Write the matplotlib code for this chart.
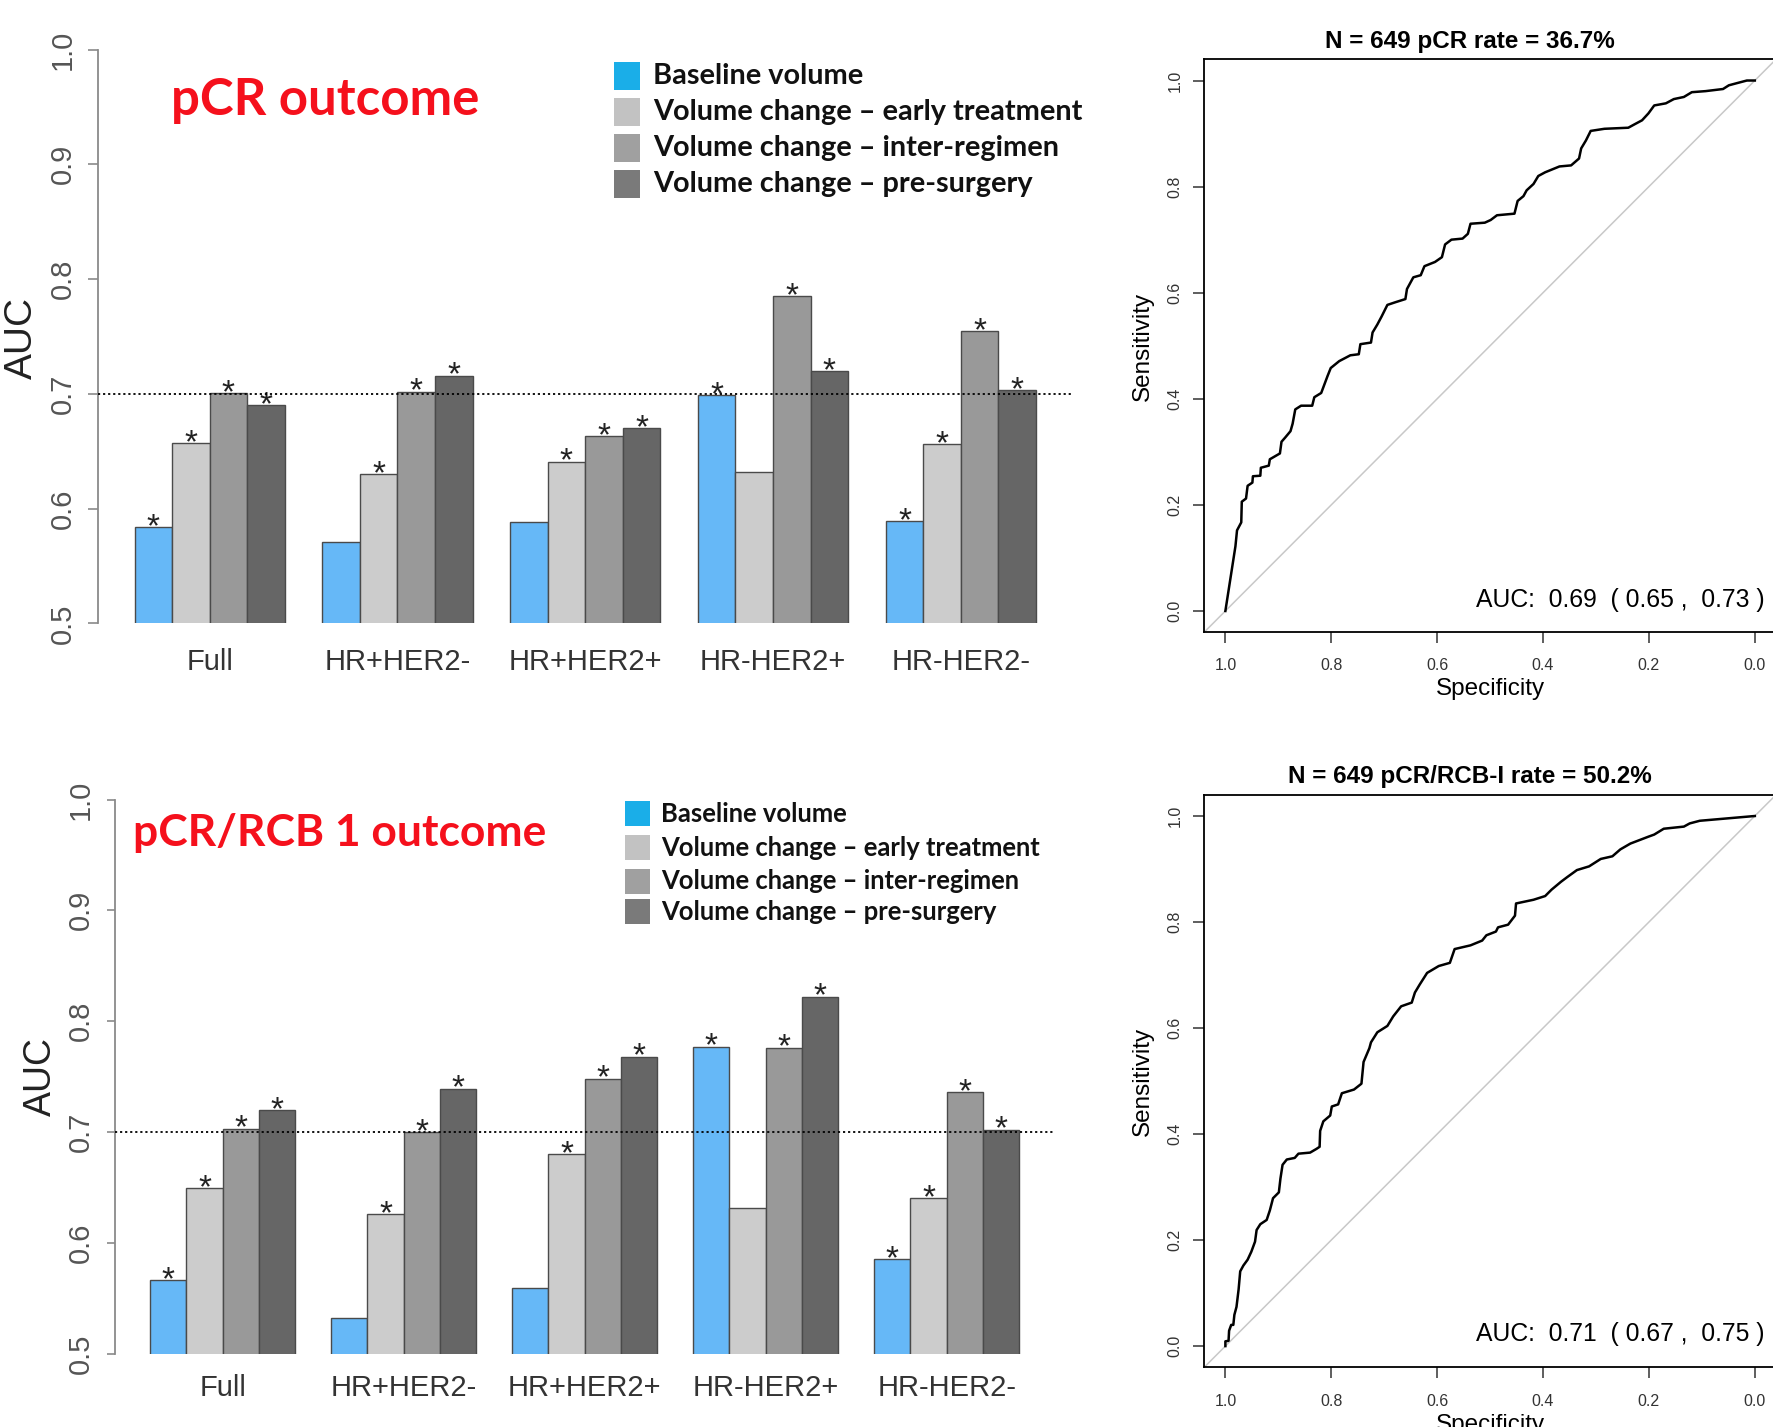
import numpy as np
import matplotlib
matplotlib.use("Agg")
import matplotlib.pyplot as plt
from matplotlib.patches import Rectangle

# ── data ──────────────────────────────────────────────────────────────────────
GROUPS = ["Full", "HR+HER2-", "HR+HER2+", "HR-HER2+", "HR-HER2-"]
SERIES = ["Baseline volume",
          "Volume change \u2013 early treatment",
          "Volume change \u2013 inter-regimen",
          "Volume change \u2013 pre-surgery"]

# pCR outcome, one list per series (values per subgroup)
PCR_BASELINE = [0.584, 0.571, 0.588, 0.699, 0.589]
PCR_EARLY    = [0.657, 0.630, 0.641, 0.632, 0.656]
PCR_INTER    = [0.701, 0.702, 0.663, 0.785, 0.755]
PCR_PRE      = [0.690, 0.716, 0.670, 0.720, 0.703]
# 1 = starred (significant), rows = subgroups, cols = series
PCR_SIG = [[1, 1, 1, 1], [0, 1, 1, 1], [0, 1, 1, 1], [1, 0, 1, 1], [1, 1, 1, 1]]

# pCR/RCB-I outcome
RCB_BASELINE = [0.566, 0.532, 0.559, 0.777, 0.585]
RCB_EARLY    = [0.649, 0.626, 0.680, 0.631, 0.640]
RCB_INTER    = [0.703, 0.700, 0.748, 0.776, 0.736]
RCB_PRE      = [0.720, 0.739, 0.768, 0.822, 0.702]
RCB_SIG = [[1, 1, 1, 1], [0, 1, 1, 1], [0, 1, 1, 1], [1, 0, 1, 1], [1, 1, 1, 1]]

# ROC curves (specificity, sensitivity)
ROC1_SPEC = [1.000, 0.981, 0.978, 0.970, 0.969, 0.961, 0.958, 0.949, 0.948, 0.934,
             0.933, 0.918, 0.916, 0.897, 0.894, 0.887, 0.877, 0.873, 0.868, 0.857,
             0.836, 0.832, 0.819, 0.813, 0.807, 0.801, 0.785, 0.764, 0.748, 0.745,
             0.725, 0.722, 0.713, 0.705, 0.694, 0.679, 0.660, 0.657, 0.645, 0.631,
             0.624, 0.604, 0.591, 0.585, 0.573, 0.552, 0.542, 0.537, 0.510, 0.499,
             0.487, 0.454, 0.448, 0.437, 0.431, 0.418, 0.409, 0.396, 0.369, 0.347,
             0.332, 0.328, 0.319, 0.310, 0.284, 0.239, 0.228, 0.213, 0.201, 0.190,
             0.168, 0.153, 0.134, 0.119, 0.093, 0.060, 0.049, 0.034, 0.015, 0.000]
ROC1_SENS = [0.000, 0.122, 0.152, 0.167, 0.206, 0.212, 0.236, 0.242, 0.254, 0.255,
             0.270, 0.274, 0.286, 0.297, 0.319, 0.327, 0.339, 0.353, 0.380, 0.387,
             0.387, 0.403, 0.411, 0.427, 0.443, 0.458, 0.471, 0.482, 0.484, 0.503,
             0.506, 0.525, 0.540, 0.555, 0.577, 0.582, 0.588, 0.607, 0.629, 0.633,
             0.650, 0.658, 0.667, 0.691, 0.700, 0.702, 0.711, 0.730, 0.732, 0.737,
             0.746, 0.749, 0.773, 0.782, 0.793, 0.805, 0.820, 0.827, 0.838, 0.840,
             0.853, 0.872, 0.887, 0.905, 0.909, 0.911, 0.917, 0.925, 0.938, 0.953,
             0.957, 0.965, 0.969, 0.978, 0.980, 0.984, 0.991, 0.995, 1.000, 1.000]

ROC2_SPEC = [1.000, 1.000, 0.994, 0.993, 0.989, 0.985, 0.983, 0.979, 0.975, 0.972,
             0.966, 0.958, 0.951, 0.944, 0.941, 0.934, 0.922, 0.916, 0.910, 0.899,
             0.896, 0.892, 0.884, 0.869, 0.862, 0.840, 0.828, 0.822, 0.821, 0.815,
             0.802, 0.799, 0.787, 0.780, 0.757, 0.743, 0.739, 0.728, 0.725, 0.713,
             0.694, 0.683, 0.668, 0.648, 0.642, 0.633, 0.619, 0.597, 0.576, 0.567,
             0.537, 0.515, 0.507, 0.489, 0.485, 0.466, 0.453, 0.451, 0.418, 0.396,
             0.384, 0.366, 0.354, 0.336, 0.313, 0.291, 0.269, 0.254, 0.235, 0.201,
             0.190, 0.172, 0.134, 0.123, 0.104, 0.000]
ROC2_SENS = [0.000, 0.009, 0.010, 0.029, 0.040, 0.040, 0.059, 0.074, 0.107, 0.141,
             0.152, 0.163, 0.178, 0.197, 0.219, 0.230, 0.238, 0.256, 0.279, 0.290,
             0.316, 0.342, 0.352, 0.355, 0.363, 0.365, 0.372, 0.376, 0.406, 0.424,
             0.435, 0.452, 0.456, 0.477, 0.484, 0.495, 0.536, 0.562, 0.573, 0.592,
             0.604, 0.622, 0.641, 0.648, 0.667, 0.682, 0.704, 0.717, 0.723, 0.749,
             0.756, 0.765, 0.775, 0.782, 0.790, 0.795, 0.812, 0.835, 0.842, 0.849,
             0.861, 0.876, 0.885, 0.898, 0.905, 0.919, 0.924, 0.937, 0.948, 0.961,
             0.965, 0.976, 0.980, 0.986, 0.991, 1.000]

ROC1_TITLE = "N = 649 pCR rate = 36.7%"
ROC2_TITLE = "N = 649 pCR/RCB-I rate = 50.2%"
ROC1_AUC = "AUC:  0.69  ( 0.65 ,  0.73 )"
ROC2_AUC = "AUC:  0.71  ( 0.67 ,  0.75 )"

BAR_COLORS = ["#66b8f7", "#cccccc", "#999999", "#666666"]
KEY_COLORS = ["#1aaee8", "#c2c2c2", "#a0a0a0", "#7a7a7a"]
RED = "#f5101c"

# ── layout helpers (pixel coordinates of the 1774x1427 canvas) ────────────────
W, H = 1774, 1427
plt.rcParams["font.family"] = ["Liberation Sans", "DejaVu Sans"]

fig = plt.figure(figsize=(W / 100, H / 100), dpi=100)


def rect(x0, y0, x1, y1):
    return [x0 / W, 1 - y1 / H, (x1 - x0) / W, (y1 - y0) / H]


def fxy(x, y):
    return x / W, 1 - y / H


def fit_width(txt, target):
    r = fig.canvas.get_renderer()
    w = txt.get_window_extent(r).width
    txt.set_fontsize(txt.get_fontsize() * target / w)
    return txt.get_fontsize()


def bar_panel(box, series_vals, sig, tick_len, tick_pad, cat_pad):
    ax = fig.add_axes(rect(*box))
    for j, vals in enumerate(series_vals):
        xs = [1.5 + 5 * g + j for g in range(len(GROUPS))]
        ax.bar(xs, vals, width=1.0, color=BAR_COLORS[j], edgecolor="#4a4a4a",
               linewidth=1.0, zorder=2)
        for g, (x, v) in enumerate(zip(xs, vals)):
            if sig[g][j]:
                ax.annotate("*", (x, v), xytext=(0, -6.5), textcoords="offset points",
                            ha="center", va="baseline", fontsize=24, color="#222222")
    ax.axhline(0.7, color="black", lw=1.3, ls=(0, (1.2, 1.6)), zorder=3)
    ax.set_xlim(0.04, 25.96)
    ax.set_ylim(0.5, 1.0)
    for s in ["top", "right", "bottom"]:
        ax.spines[s].set_visible(False)
    ax.spines["left"].set_color("#8a8a8a")
    ax.spines["left"].set_linewidth(1.3)
    ax.set_yticks([0.5, 0.6, 0.7, 0.8, 0.9, 1.0], ["0.5", "0.6", "0.7", "0.8", "0.9", "1.0"])
    ax.tick_params(axis="y", length=tick_len, width=1.2, color="#8a8a8a",
                   labelsize=21, labelcolor="#555555", pad=tick_pad)
    plt.setp(ax.get_yticklabels(), rotation=90, va="center")
    ax.set_xticks([3 + 5 * g for g in range(len(GROUPS))], GROUPS)
    ax.tick_params(axis="x", length=0, labelsize=21, labelcolor="#333333", pad=cat_pad)
    ax.patch.set_alpha(0)
    return ax


def key(x_sq, sq_w, sq_h, rows, x_txt, target_w):
    texts = []
    for label, color, yc in zip(SERIES, KEY_COLORS, rows):
        x0, y0 = fxy(x_sq, yc + sq_h / 2)
        fig.add_artist(Rectangle((x0, y0), sq_w / W, sq_h / H, transform=fig.transFigure,
                                 facecolor=color, edgecolor="none"))
        t = fig.text(*fxy(x_txt, yc), label, ha="left", va="center", fontsize=20,
                     family="Lato", fontweight="bold", color="#111111")
        texts.append(t)
    size = fit_width(texts[1], target_w)
    for t in texts:
        t.set_fontsize(size)


def roc_panel(box, spec, sens, title, auc_txt, title_y, auc_y, xlab_y, ylab_y):
    ax = fig.add_axes(rect(*box))
    ax.axline((1, 0), (0, 1), color="#c8c8c8", lw=1.1, zorder=1)
    ax.plot(spec, sens, color="black", lw=1.8, zorder=2)
    ax.set_xlim(1.04, -0.04)
    ax.set_ylim(-0.04, 1.04)
    ticks = [0.0, 0.2, 0.4, 0.6, 0.8, 1.0]
    ax.set_xticks(ticks, [f"{t:.1f}" for t in ticks])
    ax.set_yticks(ticks, [f"{t:.1f}" for t in ticks])
    for s in ax.spines.values():
        s.set_linewidth(1.3)
    ax.tick_params(axis="both", length=7.7, width=1.1, color="#333333",
                   labelsize=11.5, labelcolor="#333333")
    ax.tick_params(axis="x", pad=11.2)
    ax.tick_params(axis="y", pad=7.9)
    plt.setp(ax.get_yticklabels(), rotation=90, va="center")
    fig.text(*fxy(1470, title_y), title, ha="center", va="center",
             fontsize=17.5, fontweight="bold")
    fig.text(*fxy(1765, auc_y), auc_txt, ha="right", va="center", fontsize=17.8)
    fig.text(*fxy(1490, xlab_y), "Specificity", ha="center", va="center", fontsize=17.5)
    fig.text(*fxy(1143, ylab_y), "Sensitivity", ha="center", va="center",
             fontsize=17.5, rotation=90)
    return ax


# ── top row: pCR ──────────────────────────────────────────────────────────────
bar_panel((98.5, 49.5, 1072, 623.5), [PCR_BASELINE, PCR_EARLY, PCR_INTER, PCR_PRE],
          PCR_SIG, tick_len=7.2, tick_pad=8.6, cat_pad=17.3)
fig.text(*fxy(22, 338), "AUC", rotation=90, ha="center", va="center",
         fontsize=28, color="#222222")
t = fig.text(*fxy(171, 115), "pCR outcome", ha="left", va="baseline", fontsize=34,
             family="Lato", fontweight="bold", color=RED)
fit_width(t, 309)
key(614, 26, 28, [75.5, 112, 148, 184], 653, 427)

roc_panel((1204.2, 59.3, 1776, 632.2), ROC1_SPEC, ROC1_SENS, ROC1_TITLE, ROC1_AUC,
          title_y=41.3, auc_y=599.5, xlab_y=689, ylab_y=346)

# ── bottom row: pCR/RCB-I ─────────────────────────────────────────────────────
bar_panel((115.5, 799.5, 1053.8, 1353.5), [RCB_BASELINE, RCB_EARLY, RCB_INTER, RCB_PRE],
          RCB_SIG, tick_len=5.5, tick_pad=9.6, cat_pad=15)
fig.text(*fxy(41, 1077), "AUC", rotation=90, ha="center", va="center",
         fontsize=27, color="#222222")
t = fig.text(*fxy(133, 846), "pCR/RCB 1 outcome", ha="left", va="baseline", fontsize=34,
             family="Lato", fontweight="bold", color=RED)
fit_width(t, 413)
key(625, 25, 25, [814, 847.5, 881, 911.5], 661, 380)

roc_panel((1204.2, 794.8, 1776, 1367.3), ROC2_SPEC, ROC2_SENS, ROC2_TITLE, ROC2_AUC,
          title_y=776.4, auc_y=1334.5, xlab_y=1425, ylab_y=1081)

fig.savefig("out.png", dpi=100)
